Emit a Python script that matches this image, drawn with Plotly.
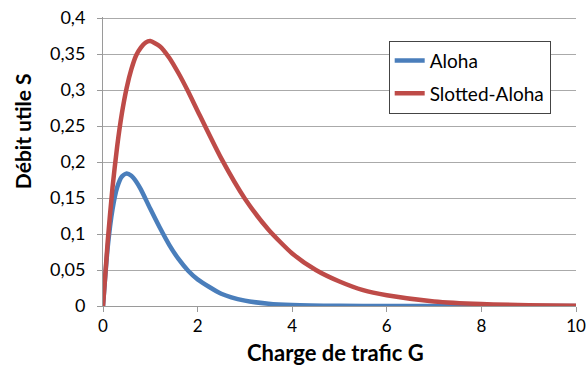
import plotly.graph_objects as go

g_aloha = [0, 0.1, 0.2, 0.3, 0.4, 0.5, 0.6, 0.7, 0.8, 1.0, 1.2, 1.4, 1.6, 1.8, 2.0, 2.5, 3.0, 3.5, 4.0, 5.0, 6.0, 7.0, 8.0, 9.0, 10.0]
s_aloha = [0, 0.082, 0.134, 0.165, 0.180, 0.184, 0.181, 0.173, 0.162, 0.135, 0.109, 0.085, 0.065, 0.049, 0.037, 0.017, 0.0074, 0.0032, 0.0013, 0.0002, 0.0, 0.0, 0.0, 0.0, 0.0]

g_slotted = [0, 0.1, 0.2, 0.3, 0.4, 0.5, 0.6, 0.7, 0.8, 0.9, 1.0, 1.2, 1.4, 1.6, 1.8, 2.0, 2.5, 3.0, 3.5, 4.0, 4.5, 5.0, 5.5, 6.0, 7.0, 8.0, 9.0, 10.0]
s_slotted = [0, 0.090, 0.164, 0.222, 0.268, 0.303, 0.329, 0.348, 0.359, 0.366, 0.368, 0.361, 0.345, 0.323, 0.298, 0.271, 0.205, 0.149, 0.106, 0.073, 0.050, 0.034, 0.022, 0.015, 0.0064, 0.0027, 0.0011, 0.0005]

series_names = ["Aloha", "Slotted-Aloha"]
colors = ["#4a7ebb", "#be4b48"]
x_title = "Charge de trafic G"
y_title = "Débit utile S"
y_ticks = [0, 0.05, 0.1, 0.15, 0.2, 0.25, 0.3, 0.35, 0.4]
y_ticktext = ["0", "0,05", "0,1", "0,15", "0,2", "0,25", "0,3", "0,35", "0,4"]
font_family = "Lato, 'Open Sans', sans-serif"

fig = go.Figure()
fig.add_trace(go.Scatter(x=g_aloha, y=s_aloha, mode="lines", name=series_names[0], legendgroup="a",
                         line=dict(color=colors[0], width=4.5, shape="spline", smoothing=0.6)))
fig.add_trace(go.Scatter(x=g_slotted, y=s_slotted, mode="lines", name=series_names[1], legendgroup="b",
                         line=dict(color=colors[1], width=4.5, shape="spline", smoothing=0.6)))

fig.update_layout(
    width=587, height=374,
    margin=dict(l=103, r=11, t=17, b=68, autoexpand=False),
    paper_bgcolor="white", plot_bgcolor="white",
    separators=", ",
    font=dict(family=font_family, size=18, color="#000000"),
    showlegend=True,
    legend=dict(x=0.604, y=0.918, xanchor="left", yanchor="top",
                bordercolor="#444444", borderwidth=1, bgcolor="white",
                font=dict(size=19, family=font_family), tracegroupgap=5,
                itemwidth=30),
    xaxis=dict(range=[0, 10], dtick=2, tick0=0, showgrid=False,
               showline=True, linecolor="#9a9a9a", linewidth=1,
               ticks="outside", ticklen=5, tickcolor="#9a9a9a",
               zeroline=False, automargin=False, ticklabeloverflow="allow",
               tickfont=dict(size=17)),
    yaxis=dict(range=[0, 0.4015], tickvals=y_ticks, ticktext=y_ticktext,
               showgrid=True, gridcolor="#aaaaaa", gridwidth=1,
               showline=True, linecolor="#9a9a9a", linewidth=1,
               ticks="outside", ticklen=5, tickcolor="#9a9a9a",
               zeroline=False, automargin=False, ticklabelstandoff=8,
               ticklabeloverflow="allow",
               tickfont=dict(size=18)),
    annotations=[
        dict(text="<b>" + x_title + "</b>", xref="paper", yref="paper", x=0.4905, y=-0.1626,
             xanchor="center", yanchor="middle", showarrow=False, font=dict(size=22, family=font_family)),
        dict(text="<b>" + y_title + "</b>", xref="paper", yref="paper", x=-0.171, y=0.6055,
             xanchor="center", yanchor="middle", textangle=-90, showarrow=False,
             font=dict(size=21, family=font_family)),
    ],
)

fig.write_html("out.html", config={"displayModeBar": False},
               post_script="document.body.style.margin='0px';")
